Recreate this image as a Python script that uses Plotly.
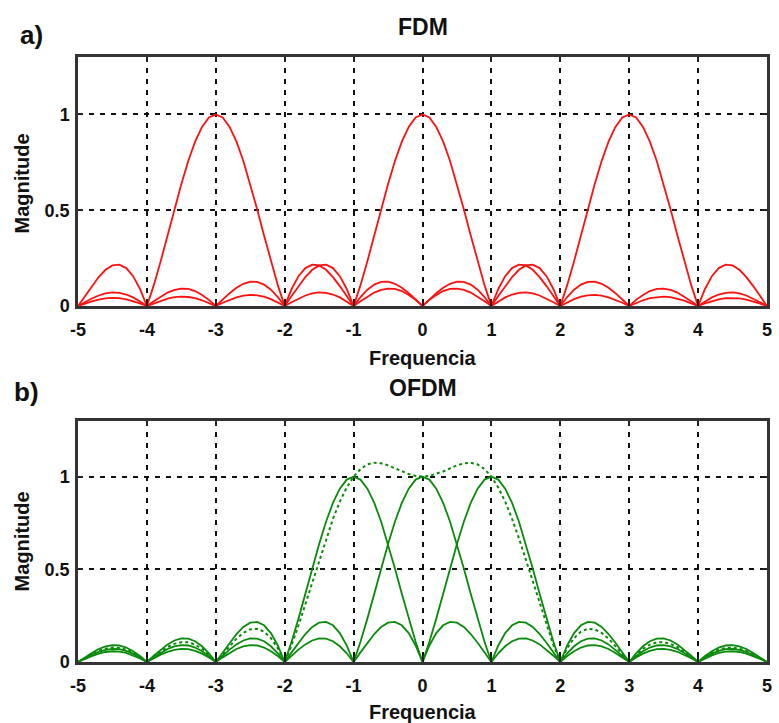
import plotly.graph_objects as go

# ---------------- data ----------------
freq = [-5.0, -4.9, -4.8, -4.7, -4.6, -4.5, -4.4, -4.3, -4.2, -4.1,
        -4.0, -3.9, -3.8, -3.7, -3.6, -3.5, -3.4, -3.3, -3.2, -3.1,
        -3.0, -2.9, -2.8, -2.7, -2.6, -2.5, -2.4, -2.3, -2.2, -2.1,
        -2.0, -1.9, -1.8, -1.7, -1.6, -1.5, -1.4, -1.3, -1.2, -1.1,
        -1.0, -0.9, -0.8, -0.7, -0.6, -0.5, -0.4, -0.3, -0.2, -0.1,
        0.0, 0.1, 0.2, 0.3, 0.4, 0.5, 0.6, 0.7, 0.8, 0.9,
        1.0, 1.1, 1.2, 1.3, 1.4, 1.5, 1.6, 1.7, 1.8, 1.9,
        2.0, 2.1, 2.2, 2.3, 2.4, 2.5, 2.6, 2.7, 2.8, 2.9,
        3.0, 3.1, 3.2, 3.3, 3.4, 3.5, 3.6, 3.7, 3.8, 3.9,
        4.0, 4.1, 4.2, 4.3, 4.4, 4.5, 4.6, 4.7, 4.8, 4.9,
        5.0]

# FDM: carriers at -3, 0, 3
fdm_carrier_m3 = [
    0, .052, .104, .151, .189, .212, .216, .198, .156, .089,
    0, .109, .234, .368, .505, .637, .757, .858, .935, .984,
    1, .984, .935, .858, .757, .637, .505, .368, .234, .109,
    0, .089, .156, .198, .216, .212, .189, .151, .104, .052,
    0, .047, .085, .112, .126, .127, .116, .095, .067, .034,
    0, .032, .058, .078, .089, .091, .084, .070, .049, .025,
    0, .024, .045, .060, .069, .071, .066, .055, .039, .020,
    0, .019, .036, .049, .056, .058, .054, .045, .032, .017,
    0, .016, .030, .041, .047, .049, .046, .038, .028, .014,
    0, .014, .026, .035, .041, .042, .040, .033, .024, .013,
    0]
fdm_carrier_0 = [
    0, .020, .039, .055, .066, .071, .069, .060, .045, .024,
    0, .025, .049, .070, .084, .091, .089, .078, .058, .032,
    0, .034, .067, .095, .116, .127, .126, .112, .085, .047,
    0, .052, .104, .151, .189, .212, .216, .198, .156, .089,
    0, .109, .234, .368, .505, .637, .757, .858, .935, .984,
    1, .984, .935, .858, .757, .637, .505, .368, .234, .109,
    0, .089, .156, .198, .216, .212, .189, .151, .104, .052,
    0, .047, .085, .112, .126, .127, .116, .095, .067, .034,
    0, .032, .058, .078, .089, .091, .084, .070, .049, .025,
    0, .024, .045, .060, .069, .071, .066, .055, .039, .020,
    0]
fdm_carrier_p3 = [
    0, .013, .024, .033, .040, .042, .041, .035, .026, .014,
    0, .014, .028, .038, .046, .049, .047, .041, .030, .016,
    0, .017, .032, .045, .054, .058, .056, .049, .036, .019,
    0, .020, .039, .055, .066, .071, .069, .060, .045, .024,
    0, .025, .049, .070, .084, .091, .089, .078, .058, .032,
    0, .034, .067, .095, .116, .127, .126, .112, .085, .047,
    0, .052, .104, .151, .189, .212, .216, .198, .156, .089,
    0, .109, .234, .368, .505, .637, .757, .858, .935, .984,
    1, .984, .935, .858, .757, .637, .505, .368, .234, .109,
    0, .089, .156, .198, .216, .212, .189, .151, .104, .052,
    0]

# OFDM: carriers at -1, 0, 1 and their combined spectrum
ofdm_carrier_m1 = [
    0, .025, .049, .070, .084, .091, .089, .078, .058, .032,
    0, .034, .067, .095, .116, .127, .126, .112, .085, .047,
    0, .052, .104, .151, .189, .212, .216, .198, .156, .089,
    0, .109, .234, .368, .505, .637, .757, .858, .935, .984,
    1, .984, .935, .858, .757, .637, .505, .368, .234, .109,
    0, .089, .156, .198, .216, .212, .189, .151, .104, .052,
    0, .047, .085, .112, .126, .127, .116, .095, .067, .034,
    0, .032, .058, .078, .089, .091, .084, .070, .049, .025,
    0, .024, .045, .060, .069, .071, .066, .055, .039, .020,
    0, .019, .036, .049, .056, .058, .054, .045, .032, .017,
    0]
ofdm_carrier_0 = [
    0, .020, .039, .055, .066, .071, .069, .060, .045, .024,
    0, .025, .049, .070, .084, .091, .089, .078, .058, .032,
    0, .034, .067, .095, .116, .127, .126, .112, .085, .047,
    0, .052, .104, .151, .189, .212, .216, .198, .156, .089,
    0, .109, .234, .368, .505, .637, .757, .858, .935, .984,
    1, .984, .935, .858, .757, .637, .505, .368, .234, .109,
    0, .089, .156, .198, .216, .212, .189, .151, .104, .052,
    0, .047, .085, .112, .126, .127, .116, .095, .067, .034,
    0, .032, .058, .078, .089, .091, .084, .070, .049, .025,
    0, .024, .045, .060, .069, .071, .066, .055, .039, .020,
    0]
ofdm_carrier_p1 = [
    0, .017, .032, .045, .054, .058, .056, .049, .036, .019,
    0, .020, .039, .055, .066, .071, .069, .060, .045, .024,
    0, .025, .049, .070, .084, .091, .089, .078, .058, .032,
    0, .034, .067, .095, .116, .127, .126, .112, .085, .047,
    0, .052, .104, .151, .189, .212, .216, .198, .156, .089,
    0, .109, .234, .368, .505, .637, .757, .858, .935, .984,
    1, .984, .935, .858, .757, .637, .505, .368, .234, .109,
    0, .089, .156, .198, .216, .212, .189, .151, .104, .052,
    0, .047, .085, .112, .126, .127, .116, .095, .067, .034,
    0, .032, .058, .078, .089, .091, .084, .070, .049, .025,
    0]
ofdm_sum = [
    0, .022, .043, .060, .072, .078, .076, .067, .050, .027,
    0, .029, .057, .081, .098, .107, .106, .094, .071, .039,
    0, .043, .086, .126, .157, .176, .179, .164, .129, .074,
    0, .091, .197, .312, .432, .552, .667, .772, .865, .941,
    1.000, 1.041, 1.066, 1.075, 1.072, 1.061, 1.045, 1.028, 1.014, 1.004,
    1.000, 1.004, 1.014, 1.028, 1.045, 1.061, 1.072, 1.075, 1.066, 1.041,
    1.000, .941, .865, .772, .667, .552, .432, .312, .197, .091,
    0, .074, .129, .164, .179, .176, .157, .126, .086, .043,
    0, .039, .071, .094, .106, .107, .098, .081, .057, .029,
    0, .027, .050, .067, .076, .078, .072, .060, .043, .022,
    0]

x_tickvals = [-5, -4, -3, -2, -1, 0, 1, 2, 3, 4, 5]
x_ticktext = ["-5", "-4", "-3", "-2", "-1", "0", "1", "2", "3", "4", "5"]
y_tickvals = [0, 0.5, 1]
y_ticktext = ["0", "0.5", "1"]

# ---------------- figure ----------------
RED = "#ff1010"
GREEN = "#0a8a0a"
FONT = "Liberation Sans, Arial, sans-serif"

fig = go.Figure()
for ys in [fdm_carrier_m3, fdm_carrier_0, fdm_carrier_p3]:
    fig.add_trace(go.Scatter(x=freq, y=ys, mode="lines", xaxis="x", yaxis="y",
                             line=dict(color=RED, width=1.8), showlegend=False))
for ys in [ofdm_carrier_m1, ofdm_carrier_0, ofdm_carrier_p1]:
    fig.add_trace(go.Scatter(x=freq, y=ys, mode="lines", xaxis="x2", yaxis="y2",
                             line=dict(color=GREEN, width=1.8), showlegend=False))
fig.add_trace(go.Scatter(x=freq, y=ofdm_sum, mode="lines", xaxis="x2", yaxis="y2",
                         line=dict(color=GREEN, width=2, dash="dot"), showlegend=False))

tickfont = dict(family=FONT, size=18, color="#111", weight="bold")
xcommon = dict(range=[-5, 5], tickvals=x_tickvals, ticktext=x_ticktext,
               showgrid=True, gridcolor="#111", gridwidth=1.8, griddash="5px,6px",
               showline=True, linecolor="#333", linewidth=2.5, mirror="ticks",
               ticks="inside", ticklen=5, tickwidth=1.8, tickcolor="#222",
               tickfont=tickfont, ticklabelstandoff=6, zeroline=False, fixedrange=True)
ycommon = dict(range=[0, 1.3], tickvals=y_tickvals, ticktext=y_ticktext,
               showgrid=True, gridcolor="#111", gridwidth=1.8, griddash="5px,6px",
               showline=True, linecolor="#333", linewidth=2.5, mirror="ticks",
               ticks="inside", ticklen=5, tickwidth=1.8, tickcolor="#222",
               tickfont=tickfont, ticklabelstandoff=2, zeroline=False, fixedrange=True)

fig.update_layout(
    width=779, height=723,
    margin=dict(l=78, r=7, t=57, b=61),
    paper_bgcolor="white", plot_bgcolor="white",
    xaxis=dict(domain=[0, 1], anchor="y", **xcommon),
    yaxis=dict(domain=[0.5884, 1], anchor="x", **ycommon),
    xaxis2=dict(domain=[0, 1], anchor="y2", **xcommon),
    yaxis2=dict(domain=[0, 0.3983], anchor="x2", **ycommon),
    showlegend=False,
)

def ann(text, x, y, size, bold=True, angle=0):
    fig.add_annotation(text=text, x=x, y=y, xref="paper", yref="paper",
                       xanchor="center", yanchor="middle", showarrow=False,
                       textangle=angle,
                       font=dict(family=FONT, size=size, color="#111",
                                 weight="bold" if bold else "normal"))

ann("FDM", 0.5, 1.0496, 23)
ann("OFDM", 0.5, 0.4529, 23)
ann("a)", -0.067, 1.036, 26)
ann("b)", -0.075, 0.446, 26)
ann("Frequencia", 0.5, 0.5025, 20)
ann("Frequencia", 0.5, -0.0826, 20)
ann("Magnitude", -0.0807, 0.7917, 20, angle=-90)
ann("Magnitude", -0.0807, 0.2, 20, angle=-90)

fig.write_html("out.html")
